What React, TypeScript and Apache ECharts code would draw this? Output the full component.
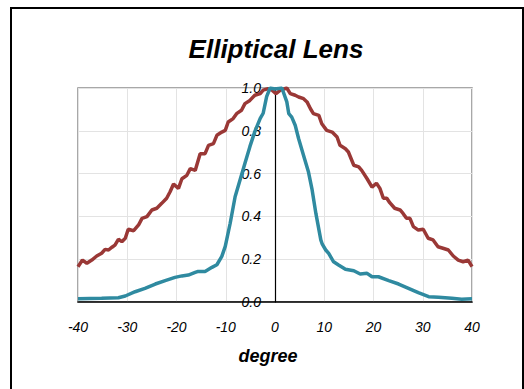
import React, { useEffect, useRef } from "react";
import * as echarts from "echarts";

const titleText = "Elliptical Lens";
const xAxisName = "degree";

const wideDeg = [-40, -39.1, -38.2, -37.2, -36.2, -35.2, -34.5, -33.8, -33.1, -32.5, -31.8, -31.1, -30.4, -29.8, -28.7, -27.7, -27.0, -26.0, -25.0, -24.0, -23.0, -22.0, -21.3, -20.6, -19.6, -18.9, -17.9, -17.2, -16.2, -15.2, -14.2, -13.5, -12.5, -11.8, -10.8, -10.1, -9.5, -8.5, -7.8, -6.8, -6.1, -5.1, -4.1, -3.0, -2.4, -1.4, -0.6, 0.2, 1.1, 2.4, 3.1, 4.1, 4.8, 5.8, 6.5, 7.2, 7.8, 8.9, 9.5, 10.5, 11.6, 12.6, 13.2, 14.3, 14.9, 16.0, 17.0, 17.6, 18.7, 19.7, 20.6, 21.3, 22.0, 22.7, 23.3, 24.3, 25.4, 26.0, 26.7, 27.4, 28.1, 29.1, 30.1, 31.1, 32.1, 33.1, 34.1, 35.2, 36.2, 37.2, 38.2, 39.2, 40];
const wideVal = [0.165, 0.196, 0.181, 0.196, 0.215, 0.228, 0.246, 0.243, 0.256, 0.266, 0.293, 0.282, 0.298, 0.34, 0.333, 0.36, 0.391, 0.399, 0.43, 0.438, 0.461, 0.485, 0.515, 0.551, 0.531, 0.576, 0.592, 0.623, 0.615, 0.693, 0.693, 0.732, 0.74, 0.779, 0.794, 0.802, 0.841, 0.857, 0.88, 0.896, 0.927, 0.942, 0.966, 0.974, 0.99, 0.997, 0.99, 0.974, 0.99, 1.0, 0.974, 0.966, 0.958, 0.95, 0.935, 0.903, 0.88, 0.872, 0.833, 0.802, 0.794, 0.771, 0.732, 0.716, 0.701, 0.639, 0.631, 0.615, 0.576, 0.537, 0.555, 0.531, 0.485, 0.485, 0.464, 0.438, 0.43, 0.414, 0.391, 0.391, 0.352, 0.336, 0.34, 0.298, 0.29, 0.258, 0.251, 0.243, 0.215, 0.196, 0.188, 0.196, 0.165];

const narrowDeg = [-40, -35.2, -31.8, -30.4, -28.4, -26.4, -24.3, -22.3, -20.3, -18.9, -17.6, -16.2, -15.6, -14.2, -12.8, -11.8, -10.8, -10.1, -9.1, -8.1, -7.1, -6.1, -5.1, -4.1, -3.0, -2.4, -1.7, -1.0, 0, 1.4, 2.4, 2.8, 3.4, 4.1, 4.8, 5.8, 6.8, 7.5, 8.3, 9.3, 9.6, 10.3, 10.9, 11.9, 12.9, 14.3, 16.0, 17.3, 18.7, 19.7, 21.0, 23.1, 25.1, 27.1, 29.1, 31.2, 33.2, 35.9, 37.9, 40];
const narrowVal = [0.015, 0.017, 0.02, 0.028, 0.048, 0.064, 0.084, 0.1, 0.115, 0.122, 0.126, 0.138, 0.143, 0.143, 0.162, 0.174, 0.213, 0.26, 0.368, 0.492, 0.57, 0.648, 0.726, 0.796, 0.858, 0.882, 0.96, 1.0, 0.995, 1.0, 0.935, 0.88, 0.864, 0.826, 0.763, 0.685, 0.607, 0.529, 0.414, 0.29, 0.27, 0.243, 0.227, 0.188, 0.173, 0.153, 0.146, 0.131, 0.134, 0.118, 0.118, 0.1, 0.084, 0.064, 0.044, 0.025, 0.022, 0.017, 0.013, 0.015];

const FONT = "'Liberation Sans', Arial, sans-serif";

export default function App() {
  const ref = useRef<HTMLDivElement>(null);
  useEffect(() => {
    if (!ref.current) return;
    const chart = echarts.init(ref.current, null, { renderer: "svg" });
    chart.setOption({
      animation: false,
      backgroundColor: "#ffffff",
      title: {
        text: titleText,
        left: 271,
        top: 31,
        textAlign: "center",
        textStyle: { fontFamily: FONT, fontSize: 26, fontWeight: "bold", fontStyle: "italic", color: "#000" },
      },
      graphic: [
        {
          type: "rect",
          shape: { x: 11, y: 8, width: 512, height: 400 },
          style: { fill: "none", stroke: "#000", lineWidth: 2 },
          silent: true,
        },
      ],
      grid: {
        left: 78,
        right: 52,
        top: 88,
        bottom: 87,
        show: true,
        borderColor: "#8c8c8c",
        borderWidth: 1.5,
        backgroundColor: "transparent",
      },
      xAxis: {
        type: "value",
        min: -40,
        max: 40,
        interval: 10,
        name: xAxisName,
        nameLocation: "middle",
        nameGap: 45,
        nameTextStyle: { fontFamily: FONT, fontSize: 18, fontWeight: "bold", fontStyle: "italic", color: "#000", padding: [0, 14, 0, 0] },
        axisLine: { show: true, onZero: false, lineStyle: { color: "#000", width: 1.5 } },
        axisTick: { show: false },
        axisLabel: { margin: 18, fontFamily: FONT, fontSize: 14, fontStyle: "italic", color: "#000" },
        splitLine: { show: true, lineStyle: { color: "#e3e3e3", width: 1 } },
      },
      yAxis: {
        type: "value",
        min: 0,
        max: 1,
        interval: 0.2,
        offset: -197,
        axisLine: { show: true, onZero: false, lineStyle: { color: "#000", width: 1.2 } },
        axisTick: { show: false },
        axisLabel: {
          margin: 14,
          fontFamily: FONT,
          fontSize: 14,
          fontStyle: "italic",
          color: "#000",
          formatter: (v: number) => v.toFixed(1),
        },
        splitLine: { show: true, lineStyle: { color: "#e3e3e3", width: 1 } },
      },
      series: [
        {
          type: "line",
          name: "wide",
          data: wideDeg.map((d, i) => [d, wideVal[i]]),
          showSymbol: false,
          lineStyle: { color: "#9a3836", width: 3.5 },
          z: 3,
        },
        {
          type: "line",
          name: "narrow",
          data: narrowDeg.map((d, i) => [d, narrowVal[i]]),
          showSymbol: false,
          lineStyle: { color: "#2f8aa0", width: 3.5 },
          z: 4,
        },
      ],
    });
    return () => chart.dispose();
  }, []);
  return (
    <div
      ref={ref}
      style={{ position: "fixed", left: 0, top: 0, width: 524, height: 389 }}
    />
  );
}
